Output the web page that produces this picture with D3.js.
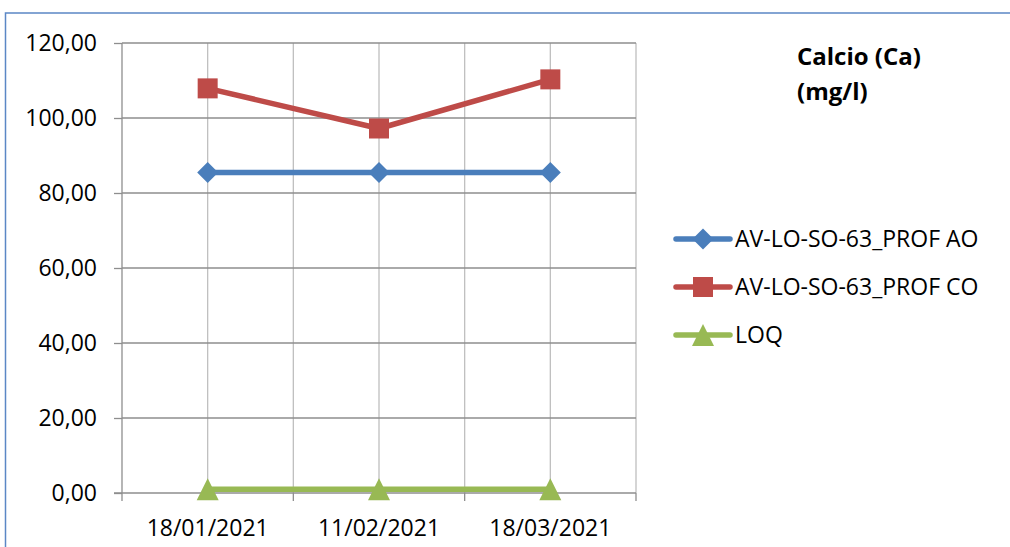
<!DOCTYPE html>
<html><head><meta charset="utf-8">
<script src="https://cdn.jsdelivr.net/npm/d3@7"></script>
<style>body{margin:0;background:#fff}svg{display:block}</style>
</head><body>
<script>
const categories = ["18/01/2021", "11/02/2021", "18/03/2021"];
const seriesNames = ["AV-LO-SO-63_PROF AO", "AV-LO-SO-63_PROF CO", "LOQ"];
const valuesAO = [85.5, 85.5, 85.5];
const valuesCO = [107.9, 97.2, 110.3];
const valuesLOQ = [1, 1, 1];
const yTicks = [0, 20, 40, 60, 80, 100, 120];
const titleLines = ["Calcio (Ca)", "(mg/l)"];

(function () {
const colors = ["#4a7ebb", "#be4b48", "#98b954"];
const symDiamond = { draw(ctx, s) { const r = 10.5; ctx.moveTo(0, -r); ctx.lineTo(r, 0); ctx.lineTo(0, r); ctx.lineTo(-r, 0); ctx.closePath(); } };
const symSquare = { draw(ctx, s) { const r = 10; ctx.rect(-r, -r, 2 * r, 2 * r); } };
const symTri = { draw(ctx, s) { ctx.moveTo(0, -11); ctx.lineTo(11, 11); ctx.lineTo(-11, 11); ctx.closePath(); } };
const symbols = [symDiamond, symSquare, symTri];
const series = [valuesAO, valuesCO, valuesLOQ];

const W = 1010, H = 547;
const FONT = "'Open Sans', sans-serif";
const FS = 23;
const svg = d3.select("body").append("svg").attr("width", W).attr("height", H);
svg.append("rect").attr("width", W).attr("height", H).attr("fill", "#fff");
svg.append("rect").attr("x", 5.5).attr("y", 13).attr("width", 1100).attr("height", 700)
  .attr("fill", "none").attr("stroke", "#5b87c5").attr("stroke-width", 1.5);

const pL = 122, pR = 636, pT = 43, pB = 493;
const x = d3.scaleBand().domain(categories).range([pL, pR]).padding(0);
const y = d3.scaleLinear().domain([0, 120]).range([pB, pT]);
const xc = c => x(c) + x.bandwidth() / 2;

const g = svg.append("g");
const vx = [];
categories.forEach(c => { vx.push(x(c)); vx.push(xc(c)); });
vx.push(pR);
g.selectAll(".vg").data(vx.slice(1)).join("line")
  .attr("x1", d => d).attr("x2", d => d).attr("y1", pT).attr("y2", pB)
  .attr("stroke", "#bfbfbf").attr("stroke-width", 1.3);
g.selectAll(".hg").data(yTicks.filter(t => t > 0)).join("line")
  .attr("x1", pL).attr("x2", pR).attr("y1", d => y(d)).attr("y2", d => y(d))
  .attr("stroke", "#8e8e8e").attr("stroke-width", 1.3);

const yAxis = d3.axisLeft(y).tickValues(yTicks).tickSize(8).tickPadding(17)
  .tickFormat(d => d3.format(".2f")(d).replace(".", ","));
const ya = svg.append("g").attr("transform", `translate(${pL},0)`).call(yAxis);
ya.select(".domain").attr("stroke", "#8e8e8e").attr("stroke-width", 1.3).attr("d", `M0,${pT}V${pB}`);
ya.selectAll(".tick line").attr("stroke", "#8e8e8e").attr("stroke-width", 1.3);
ya.selectAll("text").attr("font-family", FONT).attr("font-size", FS).attr("fill", "#000");

const xa = svg.append("g").attr("transform", `translate(0,${pB})`);
xa.append("line").attr("x1", pL - 8).attr("x2", pR).attr("y1", 0).attr("y2", 0)
  .attr("stroke", "#8e8e8e").attr("stroke-width", 1.3);
const bounds = categories.map(c => x(c)).concat([pR]);
xa.selectAll(".xt").data(bounds).join("line")
  .attr("x1", d => d).attr("x2", d => d).attr("y1", 0).attr("y2", 8)
  .attr("stroke", "#8e8e8e").attr("stroke-width", 1.3);
xa.selectAll(".xl").data(categories).join("text")
  .attr("x", d => xc(d)).attr("y", 43).attr("text-anchor", "middle")
  .attr("font-family", FONT).attr("font-size", FS).attr("fill", "#000").text(d => d);

const line = d3.line().x((d, i) => xc(categories[i])).y(d => y(d));
series.forEach((vals, si) => {
  svg.append("path").datum(vals).attr("d", line).attr("fill", "none")
    .attr("stroke", colors[si]).attr("stroke-width", 5.5).attr("stroke-linejoin", "round");
  svg.selectAll(".m" + si).data(vals).join("path")
    .attr("transform", (d, i) => `translate(${xc(categories[i])},${y(d)})`)
    .attr("d", d3.symbol().type(symbols[si]))
    .attr("fill", colors[si]);
});

svg.append("text").attr("x", 797).attr("y", 65).attr("font-family", FONT)
  .attr("font-weight", "bold").attr("font-size", 24).attr("fill", "#000")
  .selectAll("tspan").data(titleLines).join("tspan")
  .attr("x", 797).attr("dy", (d, i) => i === 0 ? 0 : 35).text(d => d);

const legY = [239, 287, 335];
seriesNames.forEach((name, i) => {
  const lg = svg.append("g");
  lg.append("line").attr("x1", 676).attr("x2", 730).attr("y1", legY[i]).attr("y2", legY[i])
    .attr("stroke", colors[i]).attr("stroke-width", 5.5).attr("stroke-linecap", "round");
  lg.append("path").attr("transform", `translate(703,${legY[i]})`)
    .attr("d", d3.symbol().type(symbols[i]))
    .attr("fill", colors[i]);
  lg.append("text").attr("x", 735).attr("y", legY[i]).attr("dy", "0.35em")
    .attr("font-family", FONT).attr("font-size", FS).attr("fill", "#000").text(name);
});
})();
</script>
</body></html>
